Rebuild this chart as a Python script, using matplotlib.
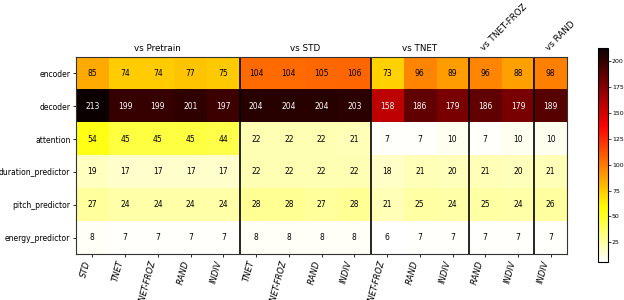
import numpy as np
import matplotlib
matplotlib.use("Agg")
import matplotlib.pyplot as plt

modules = ["encoder", "decoder", "attention", "duration_predictor",
           "pitch_predictor", "energy_predictor"]

groups = ["vs Pretrain", "vs STD", "vs TNET", "vs TNET-FROZ", "vs RAND"]
group_cols = [
    ["STD", "TNET", "TNET-FROZ", "RAND", "INDIV"],
    ["TNET", "TNET-FROZ", "RAND", "INDIV"],
    ["TNET-FROZ", "RAND", "INDIV"],
    ["RAND", "INDIV"],
    ["INDIV"],
]

encoder = [85, 74, 74, 77, 75, 104, 104, 105, 106, 73, 96, 89, 96, 88, 98]
decoder = [213, 199, 199, 201, 197, 204, 204, 204, 203, 158, 186, 179, 186, 179, 189]
attention = [54, 45, 45, 45, 44, 22, 22, 22, 21, 7, 7, 10, 7, 10, 10]
duration_predictor = [19, 17, 17, 17, 17, 22, 22, 22, 22, 18, 21, 20, 21, 20, 21]
pitch_predictor = [27, 24, 24, 24, 24, 28, 28, 27, 28, 21, 25, 24, 25, 24, 26]
energy_predictor = [8, 7, 7, 7, 7, 8, 8, 8, 8, 6, 7, 7, 7, 7, 7]

data = np.array([encoder, decoder, attention, duration_predictor,
                 pitch_predictor, energy_predictor])
col_labels = [c for g in group_cols for c in g]

fig = plt.figure(figsize=(6.24, 3.0), dpi=100)
ax = fig.add_axes([0.1218, 0.1533, 0.787, 0.6567])
cax = fig.add_axes([0.958, 0.127, 0.016, 0.713])

im = ax.imshow(data, cmap="hot_r", aspect="auto",
               vmin=data.min(), vmax=data.max())

# cell values
for i in range(data.shape[0]):
    for j in range(data.shape[1]):
        v = data[i, j]
        ax.text(j, i, str(v), ha="center", va="center", fontsize=5.5,
                color="white" if v > 130 else "black")

ax.set_yticks(range(len(modules)))
ax.set_yticklabels(modules, fontsize=5.5)
ax.set_xticks(range(len(col_labels)))
ax.set_xticklabels(col_labels, fontsize=6, rotation=75, ha="right",
                   style="italic")
ax.tick_params(length=2, width=0.6, pad=2)
for s in ax.spines.values():
    s.set_linewidth(0.8)
    s.set_color("#333333")

# group separators and titles
start = 0
for g, cols in zip(groups, group_cols):
    end = start + len(cols)
    if end < len(col_labels):
        ax.axvline(end - 0.5, color="black", lw=1.2)
    if len(cols) >= 3:
        ax.text((start + end) / 2 - 0.5, -0.62, g, ha="center", va="bottom",
                fontsize=6.3)
    else:
        ax.text(start, -0.65, g, ha="left", va="bottom", fontsize=6.3,
                rotation=45, rotation_mode="anchor")
    start = end

cb = fig.colorbar(im, cax=cax)
cb.set_ticks([25, 50, 75, 100, 125, 150, 175, 200])
cb.ax.tick_params(labelsize=4.5, length=2, width=0.5, pad=1)
cb.outline.set_linewidth(0.8)

plt.savefig("out.png", dpi=100)
